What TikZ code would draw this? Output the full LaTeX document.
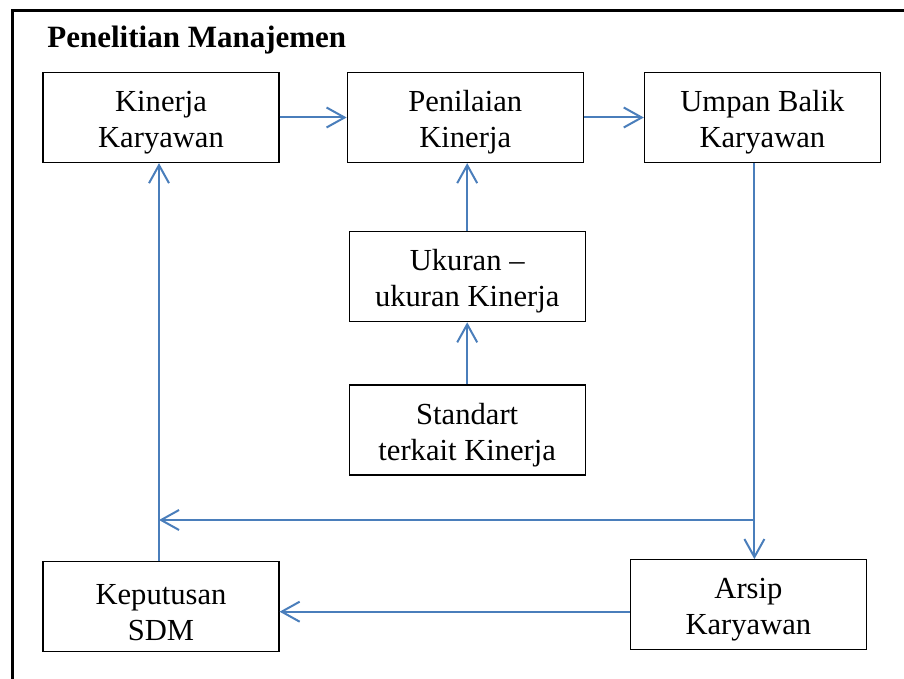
\documentclass[tikz,border=0pt]{standalone}
\usepackage{fontspec}
\setmainfont{Liberation Serif}
\usepackage{tikz}
\usetikzlibrary{positioning}
\usetikzlibrary{calc}
\usetikzlibrary{arrows.meta}
\definecolor{flowblue}{RGB}{74,126,187}
\newcommand{\toppad}{\rule{0pt}{15.5pt}}
\tikzstyle{block} = [draw, rectangle, line width=0.6pt, minimum height=45pt, minimum width=118pt, align=center, font=\fontsize{15.3}{18}\selectfont]
\tikzstyle{heading} = [anchor=base west, inner sep=0pt, font=\fontsize{15.5}{18}\selectfont\bfseries]
\tikzstyle{frameline} = [line width=1.5pt]
\tikzstyle{flow} = [->, draw=flowblue, line width=1pt]
\tikzstyle{coord} = [coordinate]

\begin{document}
\begin{tikzpicture}[>={Straight Barb[length=9pt,width=10pt]}]%[auto, node distance=2cm]
    \useasboundingbox (0,0) rectangle (452pt,-339.5pt);
    \node [block] (kinerja) at (80.5pt,-58.75pt) {\toppad Kinerja\\Karyawan};
    \node [block, right=33.5pt of kinerja] (penilaian) {\toppad Penilaian\\Kinerja};
    \node [block, right=30pt of penilaian] (umpan) {\toppad Umpan Balik\\Karyawan};
    \node [block, below=34pt of penilaian, xshift=1pt] (ukuran) {\toppad Ukuran --\\ukuran Kinerja};
    \node [block, below=31pt of ukuran] (standart) {\toppad Standart\\terkait Kinerja};
    \node [block, below=199pt of kinerja] (keputusan) {\toppad Keputusan\\SDM};
    \node [block, below=198pt of umpan, xshift=-7pt] (arsip) {\toppad Arsip\\Karyawan};
    \node [heading] (judul) at (23.5pt,-24pt) {Penelitian Manajemen};

    \draw [frameline] (6pt,-345pt) |- (460pt,-5.5pt);

    \coordinate (turun) at ([xshift=-4pt]umpan.south);
    \coordinate (kiri) at ([xshift=-1pt]kinerja.south);
    \coordinate (cabang) at (turun |- 0,-260pt);

    \draw [flow] (kinerja) -- (penilaian);
    \draw [flow] (penilaian) -- (umpan);
    \draw [flow] (ukuran.north) -- (ukuran.north |- penilaian.south);
    \draw [flow] (standart) -- (ukuran);
    \draw [flow] (turun) -- (turun |- arsip.north);
    \draw [flow] (cabang) -- (cabang -| kiri);
    \draw [flow] (keputusan.north -| kiri) -- (kiri);
    \draw [flow] ([yshift=-3.5pt]arsip.west) -- ([yshift=-3.5pt]arsip.west -| keputusan.east);
\end{tikzpicture}
\end{document}
